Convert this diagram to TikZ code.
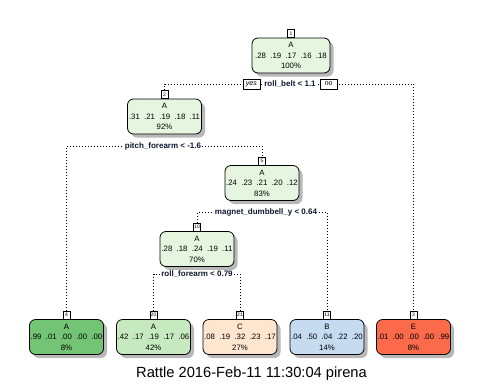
\documentclass[tikz,border=0pt]{standalone}
\usepackage{fontspec}
\setmainfont{Liberation Sans}
\usepackage{tikz}
\usetikzlibrary{
	positioning,
	shadows,
	backgrounds
}

\definecolor{splitgreen}{HTML}{E5F5E0}
\definecolor{leafgreen}{HTML}{74C476}
\definecolor{leafpale}{HTML}{C7E9C0}
\definecolor{leafpeach}{HTML}{FEE6CE}
\definecolor{leafblue}{HTML}{C6DBEF}
\definecolor{leafred}{HTML}{FB6A4A}
\definecolor{splitink}{HTML}{101830}

\tikzset{
	treenode/.style={draw, rounded corners=6pt, line width=0.8pt,
		minimum width=74pt, minimum height=35pt, inner sep=0pt, align=center,
		font=\fontsize{7.8}{10.5}\selectfont,
		drop shadow={shadow xshift=3.5pt, shadow yshift=-3.5pt, fill=black!28, opacity=1}},
	nodenum/.style={draw, fill=white, anchor=south, inner sep=0.8pt, line width=0.6pt,
		minimum width=7pt, minimum height=8pt, font=\fontsize{5}{5}\selectfont},
	splitlab/.style={fill=white, inner sep=1pt, text=splitink,
		font=\bfseries\fontsize{8}{9}\selectfont},
	yesno/.style={draw, fill=white, inner sep=1.5pt, line width=0.6pt,
		minimum width=17pt, minimum height=10pt,
		font=\itshape\fontsize{7}{8}\selectfont},
	conn/.style={line width=0.9pt, dash pattern=on 0.9pt off 2.1pt}
}

\begin{document}
\begin{tikzpicture}[x=1pt, y=-1pt]
	\useasboundingbox (0,0) rectangle (480,384);

	% inner nodes
	\node [treenode, fill=splitgreen, minimum width=78pt] (n1)  at (291,55.5) {A\\.28\ \ .19\ \ .17\ \ .16\ \ .18\\100\%};
	\node [treenode, fill=splitgreen] (n2)  at (164.5,116.5) {A\\.31\ \ .21\ \ .19\ \ .18\ \ .11\\92\%};
	\node [treenode, fill=splitgreen] (n5)  at (262,183)   {A\\.24\ \ .23\ \ .21\ \ .20\ \ .12\\83\%};
	\node [treenode, fill=splitgreen] (n10) at (197,249)   {A\\.28\ \ .18\ \ .24\ \ .19\ \ .11\\70\%};

	% leaves
	\node [treenode, fill=leafgreen] (n4)  at (66.5,337)  {A\\.99\ \ .01\ \ .00\ \ .00\ \ .00\\8\%};
	\node [treenode, fill=leafpale]  (n20) at (153.5,337) {A\\.42\ \ .17\ \ .19\ \ .17\ \ .06\\42\%};
	\node [treenode, fill=leafpeach] (n21) at (240,337)   {C\\.08\ \ .19\ \ .32\ \ .23\ \ .17\\27\%};
	\node [treenode, fill=leafblue]  (n11) at (327,337)   {B\\.04\ \ .50\ \ .04\ \ .22\ \ .20\\14\%};
	\node [treenode, fill=leafred]   (n3)  at (413.5,337) {E\\.01\ \ .00\ \ .00\ \ .00\ \ .99\\8\%};

	% node numbers
	\foreach \k in {1,2,3,4,5,10,11,20,21}
		\node [nodenum] (l\k) at (n\k.north) {\k};

	% split labels
	\node [splitlab] (s1)  at (290,84)   {roll\_belt < 1.1};
	\node [yesno, left=3pt of s1]  (yes) {yes};
	\node [yesno, right=3pt of s1] (no)  {no};
	\node [splitlab] (s2)  at (163,146)  {pitch\_forearm < -1.6};
	\node [splitlab] (s5)  at (266,212)  {magnet\_dumbbell\_y < 0.64};
	\node [splitlab] (s10) at (197,274)  {roll\_forearm < 0.79};

	\begin{scope}[on background layer]
		\draw[conn] (l2.north)  -- (l2.north |- s1)  -- (l3.north |- s1)  -- (l3.north);
		\draw[conn] (l4.north)  -- (l4.north |- s2)  -- (l5.north |- s2)  -- (l5.north);
		\draw[conn] (l10.north) -- (l10.north |- s5) -- (l11.north |- s5) -- (l11.north);
		\draw[conn] (l20.north) -- (l20.north |- s10) -- (l21.north |- s10) -- (l21.north);
	\end{scope}

	\node [font=\fontsize{14.7}{16}\selectfont] (stamp) at (251.5,374) {Rattle 2016-Feb-11 11:30:04 pirena};
\end{tikzpicture}
\end{document}
